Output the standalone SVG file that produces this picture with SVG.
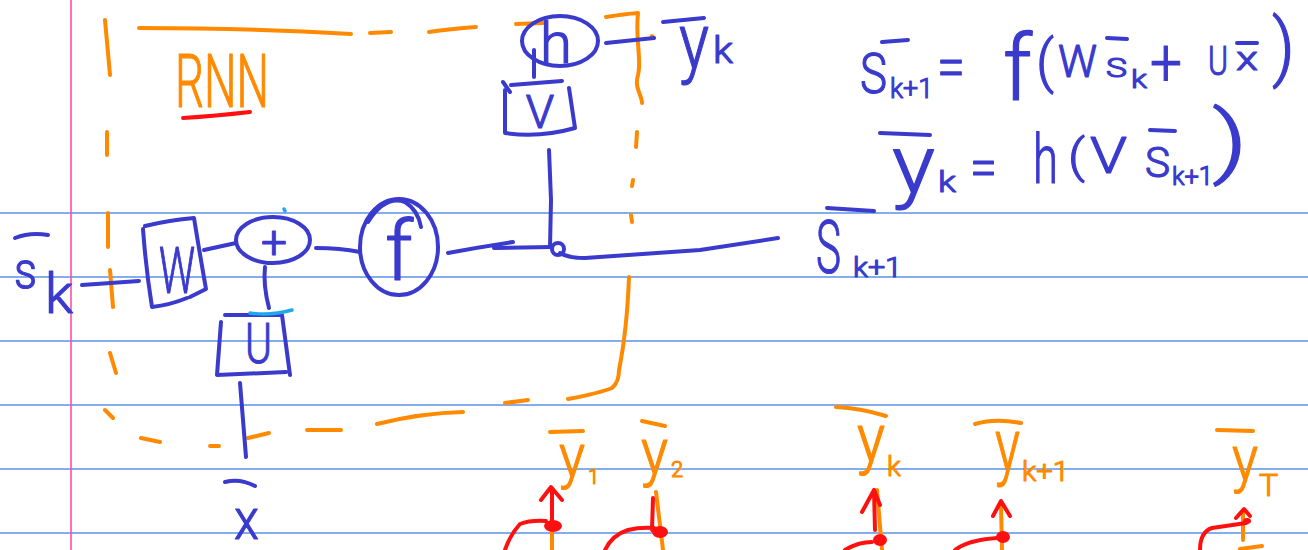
<svg xmlns="http://www.w3.org/2000/svg" width="1308" height="550" viewBox="0 0 1308 550">
<style>
.rule{stroke:#5b93e6;stroke-width:1.6;fill:none}
.b{stroke:#3a3acd;stroke-width:4;fill:none;stroke-linecap:round;stroke-linejoin:round}
.o{stroke:#ff8a00;stroke-width:4;fill:none;stroke-linecap:round;stroke-linejoin:round}
.r{stroke:#ff1010;stroke-width:4;fill:none;stroke-linecap:round;stroke-linejoin:round}
.c{stroke:#1fa8ee;stroke-width:3.5;fill:none;stroke-linecap:round}
.bt{fill:#3a3acd;stroke:#3a3acd;stroke-width:1.2;stroke-linejoin:round;font-family:Roboto,"Liberation Sans",sans-serif;font-weight:300}
.ot{fill:#ff8a00;stroke:#ff8a00;stroke-width:1.2;stroke-linejoin:round;font-family:Roboto,"Liberation Sans",sans-serif;font-weight:300}
</style>
<rect width="1308" height="550" fill="#ffffff"/>
<g id="paper">
<path class="rule" d="M0,213H1308M0,277H1308M0,341H1308M0,405H1308M0,469H1308M0,533H1308"/>
<path d="M71,0V550" stroke="#ff4fa8" stroke-width="1.6"/>
</g>
<g id="rnn-box">
<path class="o" d="M105,20 L110,75 M139,28 Q250,28 351,34 M370,33 L391,32 M429,32 Q450,29 476,27 M516,24 L543,23 M606,17 Q625,14 638,13 C635,40 642,60 638,75 C634,88 642,95 642,103 M637,132 L636,147 M633,180 L632,186 M631,215 L632,222 M652,36 L654,38 M107,132 L107,155 M108,213 L108,247 M110,270 L113,307 M110,353 L116,373 M105,410 L113,418 M141,438 L160,442 M210,446 L219,446 M248,438 L269,433 M307,430 L341,430 M377,424 Q421,413 463,412 M505,403 L528,400 M568,399 Q600,393 612,388 Q619,382 619,370 Q627,330 629,277"/>
<text class="ot" x="175" y="107" font-size="75" textLength="94" lengthAdjust="spacingAndGlyphs">RNN</text>
<path class="r" d="M183,118 Q215,116 250,112"/>
</g>
<g id="connectors">
<path class="b" d="M82,285 L139,281"/>
<path class="b" d="M204,250 L236,243"/>
<path class="b" d="M316,248 Q340,248 360,252"/>
<path class="b" d="M448,253 Q480,247 513,242 M494,248 L551,247"/>
<path class="b" d="M550,247 L551,200 L549,150"/>
<path class="b" d="M560,253 Q568,258 585,258 L700,250 L778,238"/>
<path class="b" d="M265,267 Q263,285 269,308"/>
<path class="b" d="M240,383 L246,457"/>
<path class="b" d="M534,77 L534,50"/>
<path class="b" d="M606,43 L654,38"/>
</g>
<g id="node-W">
<path class="b" d="M145,226 Q170,220 194,218 Q200,255 206,289 L190,297 M143,229 Q146,270 152,307 Q170,305 187,298"/>
<text class="bt" x="159" y="293" font-size="64" textLength="36" lengthAdjust="spacingAndGlyphs">W</text>
</g>
<g id="node-plus">
<ellipse class="b" cx="273" cy="240" rx="37" ry="23"/>
<text class="bt" x="274" y="258" font-size="46" text-anchor="middle">+</text>
<path class="c" d="M284,209 L285,211"/>
</g>
<g id="node-f">
<ellipse class="b" cx="399" cy="247" rx="39" ry="48"/>
<path class="b" d="M368,222 Q385,195 405,202 Q418,210 421,227"/>
<text class="bt" x="385" y="280" font-size="84" textLength="28" lengthAdjust="spacingAndGlyphs">f</text>
</g>
<g id="node-junction">
<circle class="b" cx="558" cy="249" r="6"/>
</g>
<g id="node-V">
<path class="b" d="M511,85 L562,81 M503,82 L510,92 M505,90 L505,133 Q540,138 575,128 L569,88"/>
<text class="bt" x="540" y="128" font-size="46" text-anchor="middle">V</text>
</g>
<g id="node-h">
<ellipse class="b" cx="560" cy="41" rx="38" ry="25"/>
<text class="bt" x="556" y="63" font-size="58" text-anchor="middle">h</text>
</g>
<g id="node-U">
<path class="b" d="M225,315 L282,315 M221,322 L217,375 L286,372 M282,315 L290,375"/>
<path class="c" d="M250,313 Q270,316 292,310"/>
<text class="bt" x="245" y="363" font-size="56" textLength="27" lengthAdjust="spacingAndGlyphs">U</text>
</g>
<g id="label-sk">
<path class="b" d="M15,238 Q30,232 48,235"/>
<text class="bt" x="14" y="288" font-size="52" textLength="23" lengthAdjust="spacingAndGlyphs">s</text>
<text class="bt" x="45" y="313" font-size="56" textLength="28" lengthAdjust="spacingAndGlyphs">k</text>
</g>
<g id="label-x">
<path class="b" d="M225,482 Q240,478 255,486"/>
<text class="bt" x="234" y="539" font-size="58" textLength="25" lengthAdjust="spacingAndGlyphs">x</text>
</g>
<g id="label-yk">
<path class="b" d="M663,22 L704,18"/>
<text class="bt" x="679" y="68" font-size="78" textLength="30" lengthAdjust="spacingAndGlyphs">y</text>
<text class="bt" x="713" y="63" font-size="36" textLength="20" lengthAdjust="spacingAndGlyphs">k</text>
</g>
<g id="label-sk1">
<path class="b" d="M827,208 L874,211"/>
<text class="bt" x="816" y="273" font-size="74" textLength="25" lengthAdjust="spacingAndGlyphs">S</text>
<text class="bt" x="853" y="277" font-size="28" textLength="49" lengthAdjust="spacingAndGlyphs">k+1</text>
</g>
<g id="eq1">
<path class="b" d="M882,42 L908,40 M1107,38 L1127,39 M1237,43 L1257,43"/>
<text class="bt" x="860" y="93" font-size="56" textLength="27" lengthAdjust="spacingAndGlyphs">S</text>
<text class="bt" x="890" y="98" font-size="28" textLength="43" lengthAdjust="spacingAndGlyphs">k+1</text>
<text class="bt" x="937" y="87" font-size="60" textLength="28" lengthAdjust="spacingAndGlyphs">=</text>
<text class="bt" x="1003" y="100" font-size="90" textLength="29" lengthAdjust="spacingAndGlyphs">f</text>
<text class="bt" x="1036" y="81" font-size="58" textLength="18" lengthAdjust="spacingAndGlyphs">(</text>
<text class="bt" x="1058" y="77" font-size="45" textLength="39" lengthAdjust="spacingAndGlyphs">W</text>
<text class="bt" x="1106" y="77" font-size="26" textLength="21" lengthAdjust="spacingAndGlyphs">S</text>
<text class="bt" x="1131" y="88" font-size="26" textLength="16" lengthAdjust="spacingAndGlyphs">k</text>
<text class="bt" x="1150" y="86" font-size="66" textLength="32" lengthAdjust="spacingAndGlyphs">+</text>
<text class="bt" x="1208" y="75" font-size="40" textLength="20" lengthAdjust="spacingAndGlyphs">U</text>
<text class="bt" x="1236" y="70" font-size="34" textLength="22" lengthAdjust="spacingAndGlyphs">x</text>
<text class="bt" x="1272" y="72" font-size="74" textLength="23" lengthAdjust="spacingAndGlyphs">)</text>
</g>
<g id="eq2">
<path class="b" d="M880,133 L930,135 M1150,130 L1175,131"/>
<text class="bt" x="892" y="193" font-size="82" textLength="43" lengthAdjust="spacingAndGlyphs">y</text>
<text class="bt" x="938" y="192" font-size="30" textLength="18" lengthAdjust="spacingAndGlyphs">k</text>
<text class="bt" x="970" y="186" font-size="55" textLength="27" lengthAdjust="spacingAndGlyphs">=</text>
<text class="bt" x="1033" y="183" font-size="68" textLength="25" lengthAdjust="spacingAndGlyphs">h</text>
<text class="bt" x="1068" y="172" font-size="46" textLength="17" lengthAdjust="spacingAndGlyphs">(</text>
<text class="bt" x="1090" y="173" font-size="50" textLength="37" lengthAdjust="spacingAndGlyphs">V</text>
<text class="bt" x="1145" y="177" font-size="42" textLength="25" lengthAdjust="spacingAndGlyphs">S</text>
<text class="bt" x="1172" y="185" font-size="25" textLength="41" lengthAdjust="spacingAndGlyphs">k+1</text>
<text class="bt" x="1212" y="168" font-size="80" textLength="36" lengthAdjust="spacingAndGlyphs">)</text>
</g>
<g id="outputs">
<path class="o" d="M552,492 L552,550 M656,492 L663,550 M877,490 L882,550 M1001,505 L1002,550 M1243,512 L1243,540 M1240,549 L1262,546"/>
<path class="o" d="M550,432 L583,431 M642,421 L665,426 M836,407 Q860,408 886,416 M975,424 Q995,418 1021,423 M1217,430 L1253,431"/>
<text class="ot" x="559" y="477" font-size="62" textLength="26" lengthAdjust="spacingAndGlyphs">y</text>
<text class="ot" x="588" y="484" font-size="20">1</text>
<text class="ot" x="641" y="474" font-size="65" textLength="27" lengthAdjust="spacingAndGlyphs">y</text>
<text class="ot" x="671" y="477" font-size="22">2</text>
<text class="ot" x="857" y="461" font-size="66" textLength="28" lengthAdjust="spacingAndGlyphs">y</text>
<text class="ot" x="887" y="476" font-size="28">k</text>
<text class="ot" x="995" y="471" font-size="74" textLength="25" lengthAdjust="spacingAndGlyphs">y</text>
<text class="ot" x="1022" y="481" font-size="28" textLength="47" lengthAdjust="spacingAndGlyphs">k+1</text>
<text class="ot" x="1232" y="480" font-size="63" textLength="26" lengthAdjust="spacingAndGlyphs">y</text>
<text class="ot" x="1259" y="496" font-size="32">T</text>
<g fill="#ff1010">
<ellipse cx="553" cy="526" rx="9" ry="6"/>
<ellipse cx="660" cy="532" rx="8" ry="6"/>
<ellipse cx="880" cy="540" rx="7" ry="6"/>
<ellipse cx="1003" cy="537" rx="7" ry="6"/>
<ellipse cx="1247" cy="521" rx="4" ry="3"/>
</g>
<path class="r" d="M552,525 L552,488 M541,500 L551,487 L562,500 M505,550 Q510,535 520,524 Q530,520 546,521"/>
<path class="r" d="M653,498 L652,530 M605,550 Q612,535 628,530 Q640,527 654,528"/>
<path class="r" d="M875,530 L874,490 M862,512 L874,490 L880,505 M845,550 Q858,542 872,542"/>
<path class="r" d="M993,516 L1001,501 L1010,516 M955,550 Q968,540 997,538"/>
<path class="r" d="M1236,518 L1244,509 L1250,516 M1200,550 Q1200,532 1212,528 L1246,523"/>
</g>
</svg>
